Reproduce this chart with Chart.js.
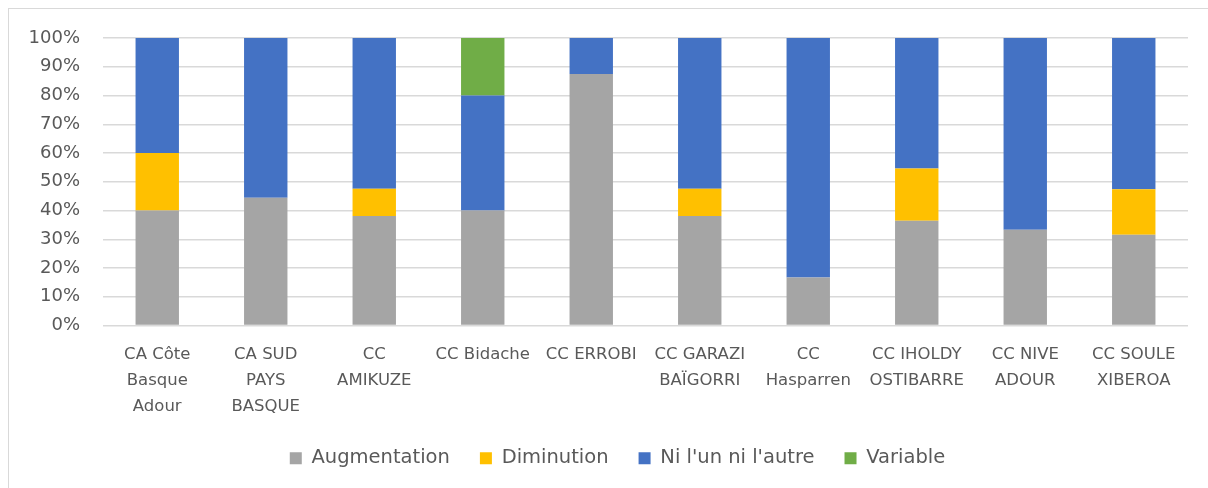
<!DOCTYPE html>
<html>
<head>
<meta charset="utf-8">
<script src="https://cdn.jsdelivr.net/npm/chart.js@4"></script>
<style>
  html, body { margin: 0; padding: 0; background: #fff; overflow: hidden; }
  #wrap { position: relative; width: 1208px; height: 488px; }
  #frame { position: absolute; left: 8px; top: 8px; width: 1240px; height: 520px; border: 1.5px solid #d9d9d9; }
  canvas { position: absolute; left: 0; top: 0; }
</style>
</head>
<body>
<div id="wrap">
  <div id="frame"></div>
  <canvas id="chart-area" width="1208" height="488"></canvas>
</div>
<script>
var categories = [
  ['CA Côte', 'Basque', 'Adour'],
  ['CA SUD', 'PAYS', 'BASQUE'],
  ['CC', 'AMIKUZE'],
  'CC Bidache',
  'CC ERROBI',
  ['CC GARAZI', 'BAÏGORRI'],
  ['CC', 'Hasparren'],
  ['CC IHOLDY', 'OSTIBARRE'],
  ['CC NIVE', 'ADOUR'],
  ['CC SOULE', 'XIBEROA']
];
var augmentation = [40, 44.4, 38.1, 40, 87.5, 38.1, 16.7, 36.4, 33.3, 31.6];
var diminution   = [20, 0, 9.5, 0, 0, 9.5, 0, 18.2, 0, 15.8];
var niLunNiLautre = [40, 55.6, 52.4, 40, 12.5, 52.4, 83.3, 45.5, 66.7, 52.6];
var variable     = [0, 0, 0, 20, 0, 0, 0, 0, 0, 0];
var yTicks = [0, 10, 20, 30, 40, 50, 60, 70, 80, 90, 100];

var textColor = '#595959';
Chart.defaults.font.family = '"DejaVu Sans", sans-serif';
Chart.defaults.color = textColor;

function makeSet(label, data, color) {
  return {
    label: label,
    data: data,
    backgroundColor: color,
    borderWidth: 0,
    barPercentage: 0.4,
    categoryPercentage: 1.0
  };
}

// nudge the legend row a bit to the right of the canvas centre
var legendShift = {
  id: 'legendShift',
  afterLayout: function (chart) {
    if (chart.legend) chart.legend.left += 47;
  }
};

var config = {
  type: 'bar',
  data: {
    labels: categories,
    datasets: [
      makeSet('Augmentation', augmentation, '#A5A5A5'),
      makeSet('Diminution', diminution, '#FFC000'),
      makeSet("Ni l'un ni l'autre", niLunNiLautre, '#4472C4'),
      makeSet('Variable', variable, '#70AD47')
    ]
  },
  options: {
    responsive: false,
    animation: false,
    layout: { padding: { top: 38, right: 20, left: 0, bottom: 10 } },
    plugins: {
      legend: {
        position: 'bottom',
        labels: {
          boxWidth: 12,
          boxHeight: 12,
          padding: 30,
          color: textColor,
          font: { size: 19.5 }
        }
      },
      tooltip: { enabled: false }
    },
    scales: {
      x: {
        stacked: true,
        grid: { display: false, drawTicks: false },
        border: { display: false },
        ticks: {
          autoSkip: false,
          maxRotation: 0,
          padding: 16,
          color: textColor,
          font: { size: 16.5, lineHeight: 1.58 }
        },
        afterFit: function (scale) { scale.height = 93; }
      },
      y: {
        stacked: true,
        min: 0,
        max: 100,
        afterBuildTicks: function (scale) {
          scale.ticks = yTicks.map(function (v) { return { value: v }; });
        },
        grid: { color: '#d9d9d9', lineWidth: 1.5, drawTicks: false },
        border: { display: false },
        ticks: {
          padding: 23,
          color: textColor,
          font: { size: 18 },
          callback: function (v) { return v + '%'; }
        },
        afterFit: function (scale) { scale.width = 103; }
      }
    }
  },
  plugins: [legendShift]
};

window.onload = function () {
  var ctx = document.getElementById('chart-area').getContext('2d');
  window.myBar = new Chart(ctx, config);
};
</script>
</body>
</html>
